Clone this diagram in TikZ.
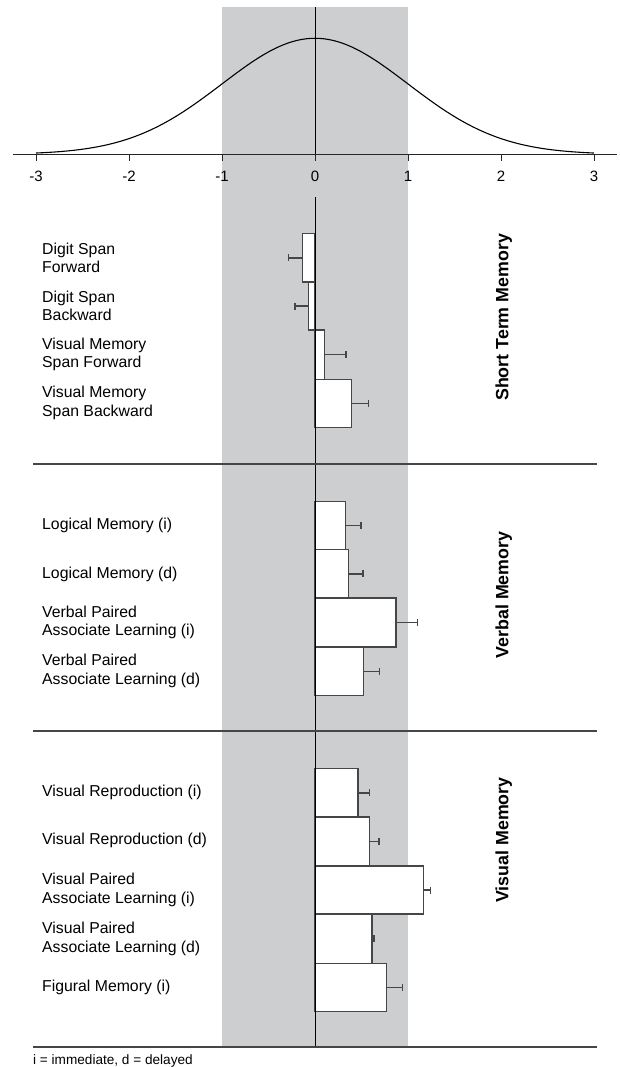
\documentclass[tikz,border=0pt]{standalone}
\usepackage{fontspec}
\setmainfont{Liberation Sans}
\definecolor{band}{RGB}{205,206,208}
\definecolor{ink}{RGB}{70,70,70}
\begin{document}
\begin{tikzpicture}[x=1pt,y=-1pt,
  lab/.style={anchor=west,align=left,inner sep=0pt,font=\fontsize{15.8}{18.7}\selectfont},
  grp/.style={rotate=90,anchor=base,inner sep=0pt,font=\fontsize{17.8}{20}\selectfont\bfseries},
  ticklab/.style={anchor=center,inner sep=0pt,font=\fontsize{15}{18}\selectfont},
  barbox/.style={draw=ink,fill=white,line width=1.3pt},
  errbar/.style={draw=ink,line width=1.3pt},
  sepline/.style={draw=ink,line width=1.6pt},
  zero/.style={draw=black,line width=0.9pt}]
\useasboundingbox (0,0) rectangle (620,1067);
\fill[band] (221.5,7) rectangle (407.5,1047);
% normal curve
\draw[line width=1.1pt] plot[domain=-3:3,samples=121,smooth] ({315+93*\x},{154.3-116*exp(-0.5*(\x)*(\x))});
\draw[zero] (315,7) -- (315,154.3);
% axis
\draw[draw=black!85,line width=1.4pt] (12.7,154.3) -- (617,154.3);
\foreach \v in {-3,...,3}{
  \draw[draw=black!85,line width=1pt] ({315+93*\v},154.3) -- ({315+93*\v},160.7);
  \node[ticklab] (t\v) at ({315+93*\v},176.7) {\v};
}
% bars: top/bottom/bar end/error end
\foreach \t/\b/\e/\r in {
  233.7/282/302.3/288.7, 282/330/308.7/295, 330/379.3/324.3/346, 379.3/427.3/351.7/368.3,
  501.7/549.7/345.7/361, 549.7/598/348.7/363, 598/647/396/417.7, 647/695.3/363.3/379.3,
  768.7/817/358/369.7, 817/866/369.3/379, 866/914/423.7/430.7, 914/963.3/372/374, 963.3/1011.3/386.7/402.3}{
  \draw[barbox] (315,\t) rectangle (\e,\b);
  \draw[errbar] (\e,{(\t+\b)/2}) -- (\r,{(\t+\b)/2});
  \draw[errbar] (\r,{(\t+\b)/2-3.5}) -- (\r,{(\t+\b)/2+3.5});
}
\draw[zero] (315,197) -- (315,1047);
% separators
\draw[sepline] (33,463.7) -- (597,463.7);
\draw[sepline] (33,731) -- (597,731);
\draw[sepline] (33,1047) -- (597,1047);
% labels
\node[lab] (dsf) at (42,258) {Digit Span\\Forward};
\node[lab] (dsb) at (42,306) {Digit Span\\Backward};
\node[lab] (vmsf) at (42,354.5) {Visual Memory\\Span Forward};
\node[lab] (vmsb) at (42,403) {Visual Memory\\Span Backward};
\node[lab] (lmi) at (42,525.7) {Logical Memory (i)};
\node[lab] (lmd) at (42,574) {Logical Memory (d)};
\node[lab] (vpali) at (42,622.3) {Verbal Paired\\Associate Learning (i)};
\node[lab] (vpald) at (42,671) {Verbal Paired\\Associate Learning (d)};
\node[lab] (vri) at (42,792.3) {Visual Reproduction (i)};
\node[lab] (vrd) at (42,840.3) {Visual Reproduction (d)};
\node[lab] (vipali) at (42,890) {Visual Paired\\Associate Learning (i)};
\node[lab] (vipald) at (42,938.7) {Visual Paired\\Associate Learning (d)};
\node[lab] (fmi) at (42,987.3) {Figural Memory (i)};
% group labels
\node[grp] (gst) at (508.3,317.4) {Short Term Memory};
\node[grp] (gvb) at (508.3,595) {Verbal Memory};
\node[grp] (gvi) at (508.3,840) {Visual Memory};
% footnote
\node[anchor=base west,inner sep=0pt,font=\fontsize{13.6}{16}\selectfont] (fn) at (33,1064.5) {i = immediate, d = delayed};
\end{tikzpicture}
\end{document}
